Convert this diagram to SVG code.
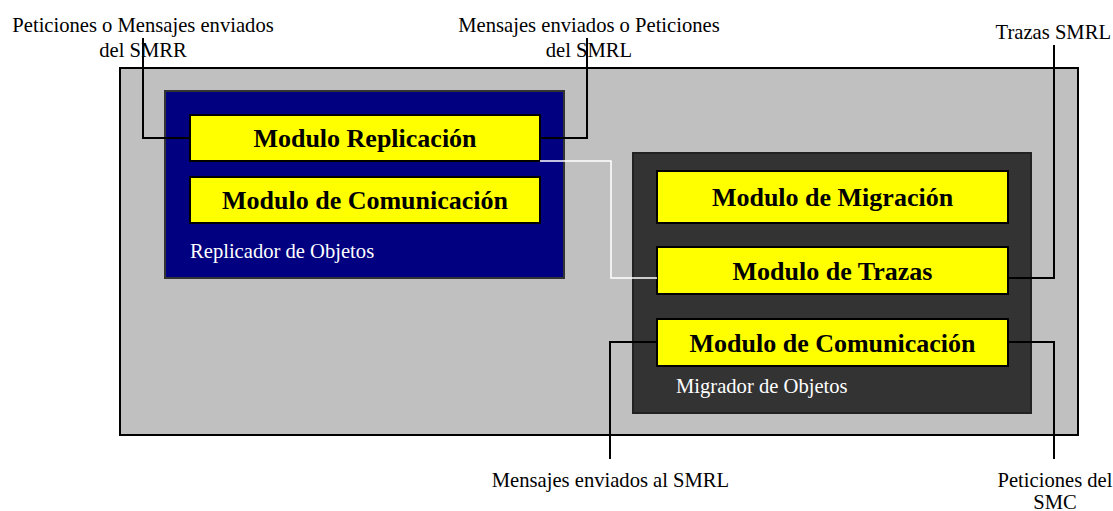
<svg xmlns="http://www.w3.org/2000/svg" width="1113" height="511" viewBox="0 0 1113 511">
<style>
.lbl{font-family:"Liberation Serif","Times New Roman",serif;font-size:20.6px;fill:#000}
.mod{fill:#ffff00;stroke:#000;stroke-width:2}
.modt{font-family:"Liberation Serif","Times New Roman",serif;font-size:26px;font-weight:bold;fill:#000;text-anchor:middle}
.cap{font-family:"Liberation Serif","Times New Roman",serif;font-size:20.6px;fill:#fff}
.wire{fill:none;stroke:#000;stroke-width:2}
</style>
<rect width="1113" height="511" fill="#fff"/>
<g id="sistema">
<rect x="120" y="68" width="958" height="367" fill="#c0c0c0" stroke="#000" stroke-width="2"/>
</g>
<g id="replicador">
<rect x="165" y="91" width="399" height="187" fill="#000080" stroke="#333" stroke-width="2"/>
<text class="cap" x="190" y="258">Replicador de Objetos</text>
</g>
<g id="mod-replicacion">
<rect class="mod" x="190" y="115" width="350" height="46"/>
<text class="modt" x="365" y="147">Modulo Replicación</text>
</g>
<g id="mod-comunicacion-rep">
<rect class="mod" x="190" y="177" width="350" height="46"/>
<text class="modt" x="365" y="209">Modulo de Comunicación</text>
</g>
<g id="migrador">
<rect x="633" y="153" width="398" height="260" fill="#333333" stroke="#222" stroke-width="2"/>
<text class="cap" x="676" y="393">Migrador de Objetos</text>
</g>
<g id="mod-migracion">
<rect class="mod" x="657" y="171" width="351" height="52"/>
<text class="modt" x="832.5" y="206">Modulo de Migración</text>
</g>
<g id="mod-trazas">
<rect class="mod" x="657" y="247" width="351" height="47"/>
<text class="modt" x="832.5" y="280">Modulo de Trazas</text>
</g>
<g id="mod-comunicacion-mig">
<rect class="mod" x="657" y="319" width="351" height="47"/>
<text class="modt" x="832.5" y="352">Modulo de Comunicación</text>
</g>
<g id="connectors">
<path class="wire" d="M143,38 V138 H190"/>
<path class="wire" d="M540,138 H587 V38"/>
<path d="M540,161 H611 V278 H657" fill="none" stroke="#fff" stroke-width="1.5"/>
<path class="wire" d="M1008,278 H1054 V45"/>
<path class="wire" d="M657,342 H610 V459"/>
<path class="wire" d="M1008,342 H1054 V459"/>
</g>
<g id="labels">
<text class="lbl" x="143" y="32" text-anchor="middle">Peticiones o Mensajes enviados</text>
<text class="lbl" x="143" y="57" text-anchor="middle">del SMRR</text>
<text class="lbl" x="589" y="32" text-anchor="middle">Mensajes enviados o Peticiones</text>
<text class="lbl" x="589" y="57" text-anchor="middle">del SMRL</text>
<text class="lbl" x="1111" y="39" text-anchor="end">Trazas SMRL</text>
<text class="lbl" x="610.5" y="487" text-anchor="middle">Mensajes enviados al SMRL</text>
<text class="lbl" x="1055" y="487" text-anchor="middle">Peticiones del</text>
<text class="lbl" x="1055" y="509" text-anchor="middle">SMC</text>
</g>
</svg>
